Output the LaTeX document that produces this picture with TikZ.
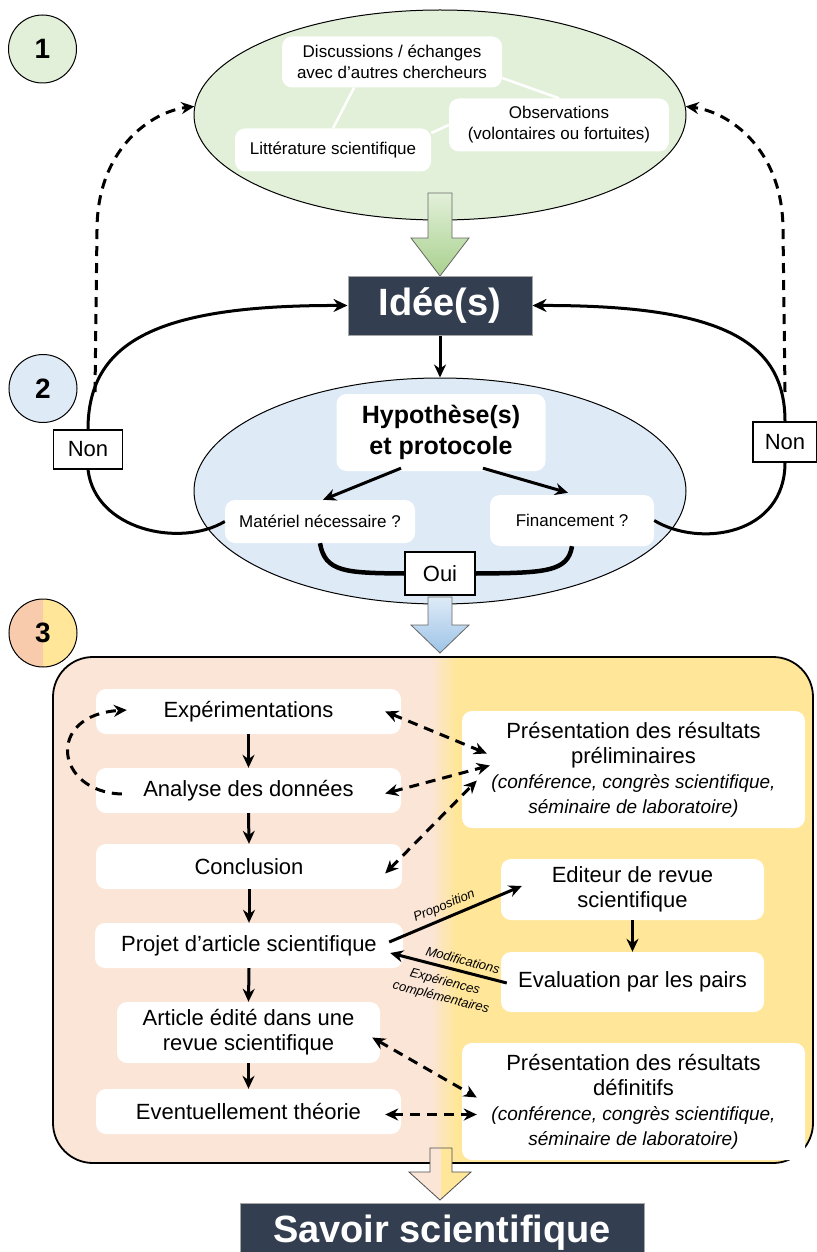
\documentclass[tikz,border=0pt]{standalone}
\usepackage{fontspec}
\setmainfont{Liberation Sans}
\usetikzlibrary{arrows.meta,shapes.geometric}

\definecolor{leafgreen}{HTML}{E2F0D9}
\definecolor{leafdeep}{HTML}{A9D18E}
\definecolor{skyblue}{HTML}{DEEBF7}
\definecolor{skydeep}{HTML}{9DC3E6}
\definecolor{peach}{HTML}{FBE5D6}
\definecolor{peachdeep}{HTML}{F8CBAD}
\definecolor{sand}{HTML}{FFE699}
\definecolor{slate}{HTML}{333F50}

\newcommand\pnote{\fontsize{19}{25}\selectfont\itshape}

\begin{document}
\begin{tikzpicture}[x=1pt, y=-1pt,
    box/.style={rectangle, rounded corners=10pt, fill=white, inner sep=0pt,
        align=center, font=\fontsize{22}{25}\selectfont},
    smallbox/.style={box, font=\fontsize{17}{21}\selectfont},
    darkbox/.style={rectangle, fill=slate, draw=gray!70, line width=1pt,
        text=white, inner sep=0pt, font=\fontsize{38}{44}\selectfont\bfseries},
    num/.style={circle, draw, line width=1pt, minimum size=68pt, inner sep=0pt,
        font=\fontsize{28}{32}\selectfont\bfseries},
    answer/.style={rectangle, draw, fill=white, line width=1.2pt, inner sep=0pt,
        font=\fontsize{22}{25}\selectfont},
    arr/.style={line width=3pt, -{Stealth[length=13pt,width=12pt]}},
    loopline/.style={line width=3pt},
    bracket/.style={line width=4.5pt},
    dashone/.style={line width=3pt, dash pattern=on 10pt off 7pt,
        -{Stealth[length=13pt,width=12pt]}},
    dashtwo/.style={dashone, {Stealth[length=13pt,width=12pt]}-{Stealth[length=13pt,width=12pt]}},
    lbl/.style={sloped, inner sep=2pt, align=center,
        font=\fontsize{13}{16}\selectfont\itshape}
]
    \useasboundingbox (0,0) rectangle (816,1252);

    % step 1
    \node[num, fill=leafgreen] (one) at (42.5,49) {1};
    \node[ellipse, draw, line width=1pt, fill=leafgreen, inner sep=0pt,
        minimum width=492pt, minimum height=210pt] (sources) at (440,115) {};
    \node[smallbox, minimum width=220pt, minimum height=51pt] (disc) at (392,62)
        {Discussions / échanges\\avec d’autres chercheurs};
    \node[smallbox, minimum width=220pt, minimum height=53pt] (obs) at (559,125)
        {Observations\\(volontaires ou fortuites)};
    \node[smallbox, minimum width=196pt, minimum height=43pt] (litt) at (333,150)
        {Littérature scientifique};
    \draw[white, line width=2.5pt] ([xshift=-38pt]disc.south) -- (litt.north);
    \draw[white, line width=2.5pt] ([yshift=-16pt]disc.east) -- (obs.north);
    \draw[white, line width=2.5pt] ([yshift=17pt]litt.east) -- (obs.west);
    \shadedraw[top color=leafgreen, bottom color=leafdeep, draw=black!60, line width=0.8pt]
        (428,193) -- (452,193) -- (452,238) -- (469,238) -- (440,276)
        -- (411,238) -- (428,238) -- cycle;
    \node[darkbox, minimum width=184pt, minimum height=59pt] (idees) at (440,305.5) {Idée(s)};

    % step 2
    \node[num, fill=skyblue] (two) at (43,388.5) {2};
    \node[ellipse, draw, line width=1pt, fill=skyblue, inner sep=0pt,
        minimum width=492pt, minimum height=226pt] (hypo) at (440,491) {};
    \node[box, minimum width=209pt, minimum height=77pt,
        font=\fontsize{25}{31}\selectfont\bfseries] (hyp) at (441,432.5)
        {Hypothèse(s)\\et protocole};
    \node[smallbox, minimum width=190pt, minimum height=43pt] (mat) at (320,521.5)
        {Matériel nécessaire ?};
    \node[smallbox, minimum width=164pt, minimum height=51pt] (fin) at (572,520.5)
        {Financement ?};
    \shadedraw[top color=skyblue, bottom color=skydeep, draw=black!60, line width=0.8pt]
        (428,597) -- (452,597) -- (452,625) -- (469,625) -- (440,653)
        -- (411,625) -- (428,625) -- cycle;
    \node[answer, minimum width=70pt, minimum height=43pt] (oui) at (440,573.5) {Oui};
    \node[answer, minimum width=69pt, minimum height=39pt] (nonL) at (88,449.5) {Non};
    \node[answer, minimum width=64pt, minimum height=40pt] (nonR) at (785,442) {Non};
    \coordinate (dashL) at (95,392);
    \coordinate (dashR) at (785,392);

    \draw[arr] (idees.south) -- (hypo.north);
    \draw[arr] ([xshift=-40pt,yshift=3pt]hyp.south) -- ([xshift=3pt]mat.north);
    \draw[arr] ([xshift=42pt,yshift=3pt]hyp.south) -- ([xshift=-4pt,yshift=2pt]fin.north);
    \draw[bracket] (mat.south) .. controls (325,572) and (345,573) .. (oui.west);
    \draw[bracket] (fin.south) .. controls (568,572) and (545,573) .. (oui.east);
    \draw[loopline] (mat.west) .. controls (180,548) and (95,530) .. (nonL.south);
    \draw[loopline, -{Stealth[length=14pt,width=13pt]}] (nonL.north)
        .. controls (88,340) and (160,305) .. (idees.west);
    \draw[loopline] (fin.east) .. controls (700,548) and (785,535) .. (nonR.south);
    \draw[loopline, -{Stealth[length=14pt,width=13pt]}] (nonR.north)
        .. controls (785,340) and (720,305) .. (idees.east);
    \draw[dashone] (dashL) -- (97,230) .. controls (97,150) and (150,112) .. (sources.178);
    \draw[dashone] (dashR) -- (783,230) .. controls (783,150) and (730,112) .. (sources.2);

    % step 3
    \node[num, fill=sand, path picture={\fill[peachdeep]
        (path picture bounding box.south west) rectangle (path picture bounding box.north);}]
        (three) at (43,633) {3};
    \begin{scope}
        \clip[rounded corners=40pt] (53,657) rectangle (813,1163);
        \fill[peach] (53,657) rectangle (432,1163);
        \shade[left color=peach, right color=sand] (431,657) rectangle (456,1163);
        \fill[sand] (455,657) rectangle (813,1163);
    \end{scope}
    \draw[line width=1.8pt, rounded corners=40pt] (53,657) rectangle (813,1163);

    \node[box, minimum width=305pt, minimum height=45pt] (exp) at (248.5,711.5) {Expérimentations};
    \node[box, minimum width=305pt, minimum height=45pt] (ana) at (248.5,790.5) {Analyse des données};
    \node[box, minimum width=306pt, minimum height=45pt] (conc) at (249,866.5) {Conclusion};
    \node[box, minimum width=308pt, minimum height=45pt] (projet) at (249,945.5)
        {Projet d’article scientifique};
    \node[box, minimum width=263pt, minimum height=61pt] (art) at (248.5,1032.5)
        {Article édité dans une\\revue scientifique};
    \node[box, minimum width=305pt, minimum height=45pt] (theo) at (248.5,1111.5)
        {Eventuellement théorie};
    \node[box, minimum width=343pt, minimum height=117pt] (prelim) at (633.5,769.5)
        {Présentation des résultats\\préliminaires\\\pnote(conférence, congrès scientifique,\\\pnote séminaire de laboratoire)};
    \node[box, minimum width=263pt, minimum height=61pt] (edit) at (632.5,889.5)
        {Editeur de revue\\scientifique};
    \node[box, minimum width=263pt, minimum height=60pt] (eval) at (632.5,982)
        {Evaluation par les pairs};
    \node[box, minimum width=343pt, minimum height=117pt] (defin) at (633.5,1101.5)
        {Présentation des résultats\\définitifs\\\pnote(conférence, congrès scientifique,\\\pnote séminaire de laboratoire)};

    \draw[arr] (exp.south) -- (ana.north);
    \draw[arr] (ana.south) -- (conc.north);
    \draw[arr] (conc.south) -- (projet.north);
    \draw[arr] (projet.south) -- (art.north);
    \draw[arr] (art.south) -- (theo.north);
    \draw[arr] (edit.south) -- (eval.north);
    \draw[dashone] ([xshift=26pt,yshift=-3.5pt]ana.west)
        .. controls (55,792) and (45,715) .. ([xshift=31pt,yshift=1.5pt]exp.west);
    \draw[dashtwo] ([xshift=-16pt]exp.east) -- ([xshift=25pt,yshift=16pt]prelim.west);
    \draw[dashtwo] ([xshift=-16pt,yshift=-3pt]ana.east) -- ([xshift=28pt,yshift=4pt]prelim.west);
    \draw[dashtwo] ([xshift=-17pt,yshift=-7pt]conc.east) -- ([xshift=15pt,yshift=-11pt]prelim.west);
    \draw[dashtwo] ([xshift=-8pt,yshift=-5pt]art.east) -- ([xshift=15pt,yshift=4pt]defin.west);
    \draw[dashtwo] ([xshift=-16pt,yshift=-3pt]theo.east) -- ([xshift=15pt,yshift=-13pt]defin.west);
    \draw[arr] ([xshift=-14pt,yshift=3.5pt]projet.east)
        -- node[lbl, above=2pt, pos=0.45] {Proposition} ([xshift=21pt,yshift=3.5pt]edit.west);
    \draw[line width=3pt, {Stealth[length=13pt,width=12pt]}-] ([xshift=-13pt,yshift=-7.5pt]projet.east)
        -- node[lbl, above=3pt, pos=0.6] {Modifications}
           node[lbl, below=5pt, pos=0.5] {Expériences\\complémentaires}
        ([xshift=6pt,yshift=-1pt]eval.west);

    % result
    \begin{scope}
        \clip (430,1148) -- (452,1148) -- (452,1172) -- (471,1172) -- (440,1200)
            -- (409,1172) -- (430,1172) -- cycle;
        \fill[peach] (400,1140) rectangle (441,1210);
        \fill[sand] (441,1140) rectangle (480,1210);
    \end{scope}
    \draw[black!70, line width=0.8pt] (430,1148) -- (452,1148) -- (452,1172) -- (471,1172)
        -- (440,1200) -- (409,1172) -- (430,1172) -- cycle;
    \node[darkbox, minimum width=404pt, minimum height=59pt] (savoir) at (442,1232.5)
        {Savoir scientifique};
\end{tikzpicture}
\end{document}
